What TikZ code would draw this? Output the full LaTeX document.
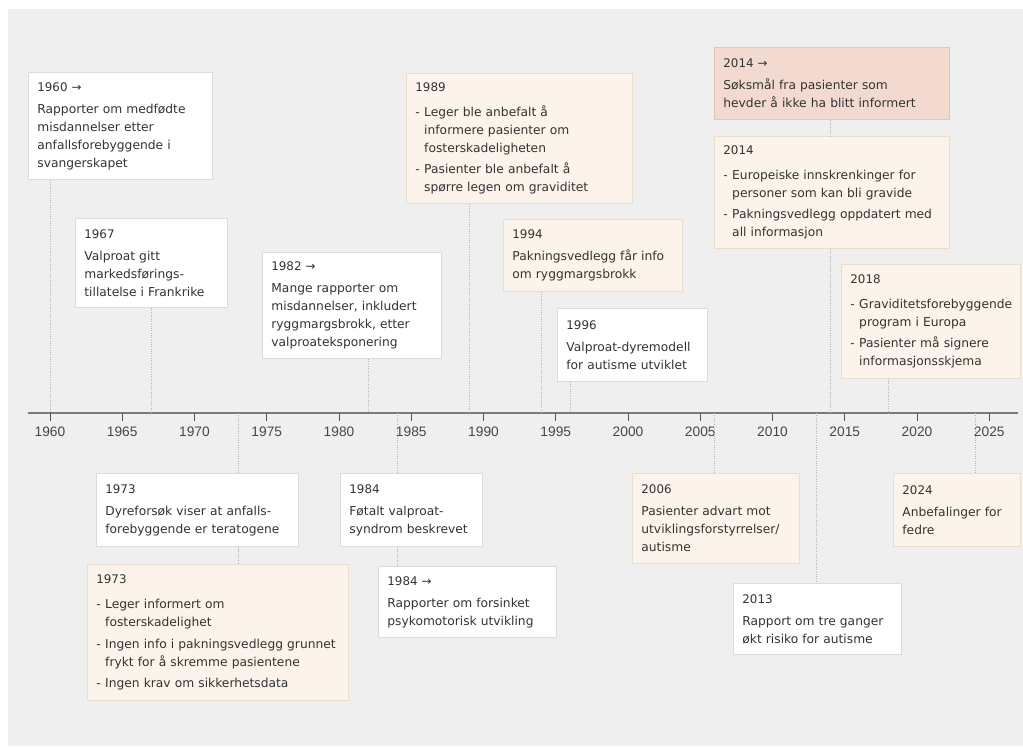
\documentclass[tikz,border=0pt]{standalone}
\usepackage{fontspec}
\setmainfont{DejaVu Sans}
\newfontfamily\axisfont{Liberation Sans}
\usepackage{xcolor}
\definecolor{bggray}{HTML}{EFEFEF}
\definecolor{txt}{HTML}{333333}
\definecolor{wline}{HTML}{DCDCDC}
\definecolor{pfill}{HTML}{FCF3EA}
\definecolor{pline}{HTML}{EADDD0}
\definecolor{rfill}{HTML}{F3DAD0}
\definecolor{rline}{HTML}{E4C5B8}
\definecolor{axc}{HTML}{7A7A7A}
\setlength{\parindent}{0pt}
\newcommand{\yr}[1]{{\fontsize{8.9}{13.5}\selectfont #1\par}\vspace{3pt}}
\newcommand{\itm}[1]{\vspace{2.5pt}\hangindent=0.72em\hangafter=1\noindent\makebox[0.72em][l]{-}#1\par}

\begin{document}
\begin{tikzpicture}[x=0.75pt, y=-0.75pt,
  box/.style={draw=wline, fill=white, line width=0.6pt, anchor=north west, align=left,
    text=txt, inner xsep=6.75pt, inner ysep=4pt, font=\fontsize{9.2}{13.5}\selectfont},
  pale/.style={box, draw=pline, fill=pfill},
  sue/.style={box, draw=rline, fill=rfill},
  link/.style={draw=gray!60, line width=0.45pt, dash pattern=on 0.7pt off 1pt},
  axlab/.style={font=\axisfont\fontsize{10.3}{12}\selectfont, text=txt!90}]

\useasboundingbox (0,0) rectangle (1023,746);
\fill[bggray] (8,9) rectangle (1023,746);

\foreach \yy in {1960,1967,1973,1982,1984,1989,1994,1996,2006,2013,2014,2018,2024}
  \coordinate (t_\yy) at ({50+(\yy-1960)*14.45},413);

\draw[axc, line width=1.1pt] (28,413) -- (1018,413);
\foreach \yy in {1960,1965,...,2025} {
  \pgfmathsetmacro\xx{50+(\yy-1960)*14.45}
  \draw[txt!85, line width=0.7pt] (\xx,413) -- (\xx,421);
  \node[axlab] (lab_\yy) at (\xx,432) {\yy};
}

% above the axis
\node[box, text width=124.5pt, minimum height=80.25pt] (ev_1960) at (28,72)
  {\yr{1960 →}Rapporter om medfødte\newline misdannelser etter\newline anfallsforebyggende i\newline svangerskapet};
\node[box, text width=100.5pt, minimum height=66.75pt] (ev_1967) at (75,218)
  {\yr{1967}Valproat gitt\newline markedsførings-\newline tillatelse i Frankrike};
\node[box, text width=120.75pt, minimum height=79.5pt] (ev_1982) at (262,252)
  {\yr{1982 →}Mange rapporter om\newline misdannelser, inkludert\newline ryggmargsbrokk, etter\newline valproateksponering};
\node[pale, text width=156pt, minimum height=97.5pt] (ev_1989) at (406,73)
  {\yr{1989}\itm{Leger ble anbefalt å\newline informere pasienter om\newline fosterskadeligheten}\itm{Pasienter ble anbefalt å\newline spørre legen om graviditet}};
\node[pale, text width=120.75pt, minimum height=54pt] (ev_1994) at (503,219)
  {\yr{1994}Pakningsvedlegg får info\newline om ryggmargsbrokk};
\node[box, text width=99pt, minimum height=54.75pt] (ev_1996) at (557,308)
  {\yr{1996}Valproat-dyremodell\newline for autisme utviklet};
\node[sue, text width=162.75pt, minimum height=54pt] (ev_2014a) at (714,47)
  {\yr{2014 →}Søksmål fra pasienter som\newline hevder å ikke ha blitt informert};
\node[pale, text width=162.75pt, minimum height=84pt] (ev_2014b) at (714,136)
  {\yr{2014}\itm{Europeiske innskrenkinger for\newline personer som kan bli gravide}\itm{Pakningsvedlegg oppdatert med\newline all informasjon}};
\node[pale, text width=120.75pt, minimum height=85.5pt] (ev_2018) at (841,264)
  {\yr{2018}\itm{Graviditetsforebyggende\newline program i Europa}\itm{Pasienter må signere\newline informasjonsskjema}};

% below the axis
\node[box, text width=138pt, minimum height=54.75pt] (ev_1973a) at (96,473)
  {\yr{1973}Dyreforsøk viser at anfalls-\newline forebyggende er teratogene};
\node[pale, text width=182.25pt, minimum height=102pt] (ev_1973b) at (87,564)
  {\yr{1973}\itm{Leger informert om\newline fosterskadelighet}\itm{Ingen info i pakningsvedlegg grunnet\newline frykt for å skremme pasientene}\itm{Ingen krav om sikkerhetsdata}};
\node[box, text width=93pt, minimum height=54.75pt] (ev_1984a) at (340,473)
  {\yr{1984}Føtalt valproat-\newline syndrom beskrevet};
\node[box, text width=120pt, minimum height=53.25pt] (ev_1984b) at (378,566)
  {\yr{1984 →}Rapporter om forsinket\newline psykomotorisk utvikling};
\node[pale, text width=111.75pt, minimum height=67.5pt] (ev_2006) at (632,473)
  {\yr{2006}Pasienter advart mot\newline utviklingsforstyrrelser/\newline autisme};
\node[box, text width=112.5pt, minimum height=53.25pt] (ev_2013) at (733,583)
  {\yr{2013}Rapport om tre ganger\newline økt risiko for autisme};
\node[pale, text width=81.75pt, minimum height=54.75pt] (ev_2024) at (893,473)
  {\yr{2024}Anbefalinger for\newline fedre};

\draw[link] (ev_1960.south -| t_1960) -- (t_1960);
\draw[link] (ev_1967.south -| t_1967) -- (t_1967);
\draw[link] (ev_1982.south -| t_1982) -- (t_1982);
\draw[link] (ev_1989.south -| t_1989) -- (t_1989);
\draw[link] (ev_1994.south -| t_1994) -- (t_1994);
\draw[link] (ev_1996.south -| t_1996) -- (t_1996);
\draw[link] (ev_2014a.south -| t_2014) -- (ev_2014b.north -| t_2014);
\draw[link] (ev_2014b.south -| t_2014) -- (t_2014);
\draw[link] (ev_2018.south -| t_2018) -- (t_2018);
\draw[link] (t_1973) -- (ev_1973a.north -| t_1973);
\draw[link] (ev_1973a.south -| t_1973) -- (ev_1973b.north -| t_1973);
\draw[link] (t_1984) -- (ev_1984a.north -| t_1984);
\draw[link] (ev_1984a.south -| t_1984) -- (ev_1984b.north -| t_1984);
\draw[link] (t_2006) -- (ev_2006.north -| t_2006);
\draw[link] (t_2013) -- (ev_2013.north -| t_2013);
\draw[link] (t_2024) -- (ev_2024.north -| t_2024);
\end{tikzpicture}
\end{document}
